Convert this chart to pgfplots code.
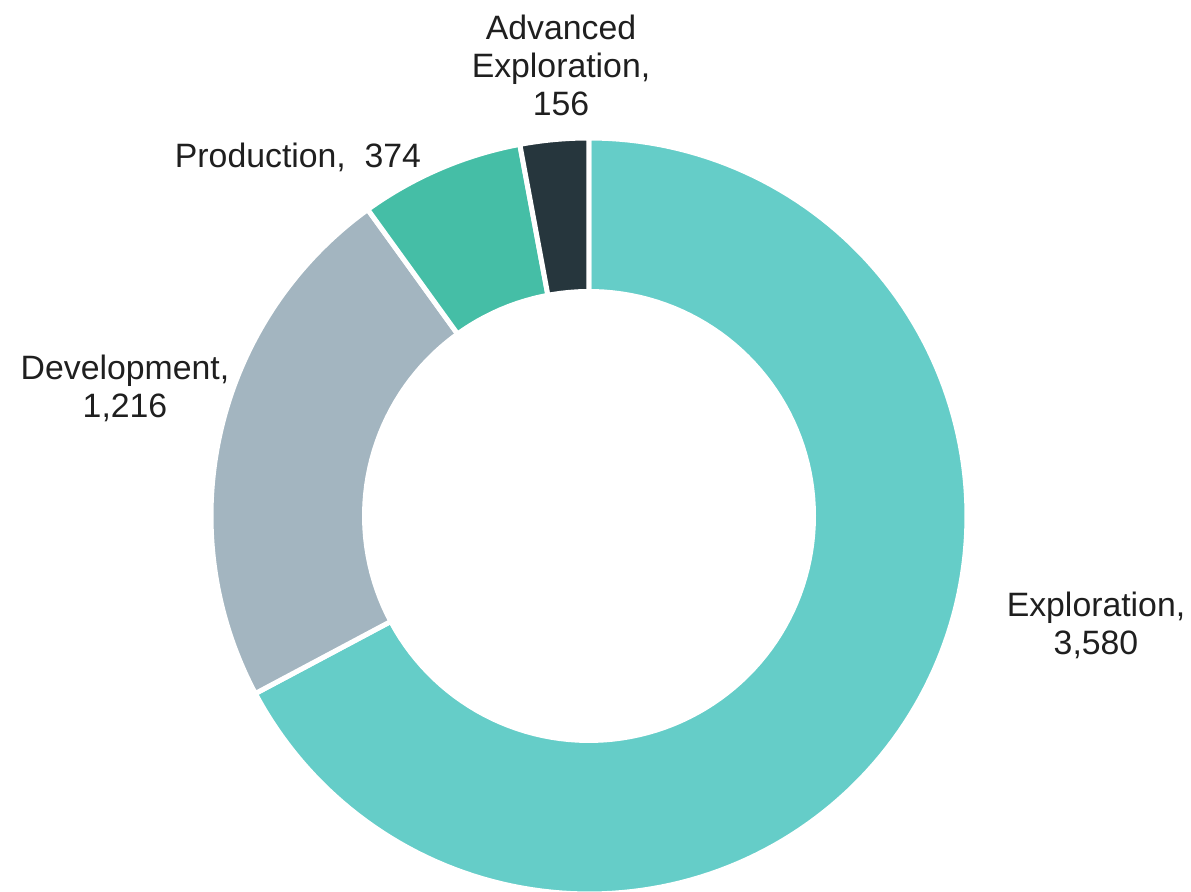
\documentclass[border=0pt]{standalone}
\usepackage{pgfplots}
\pgfplotsset{compat=1.18}
\usepackage{fontspec}
\setmainfont{Liberation Sans}
\definecolor{cExp}{HTML}{65CDC8}
\definecolor{cDev}{HTML}{A3B5C0}
\definecolor{cPro}{HTML}{45BEA6}
\definecolor{cAdv}{HTML}{26363D}
\def\vExp{3580}
\def\vDev{1216}
\def\vPro{374}
\def\vAdv{156}
\def\cx{589}
\def\cy{376}
\def\Ro{378}
\def\Ri{227}
\begin{document}
\begin{tikzpicture}
\pgfmathsetmacro{\total}{\vExp+\vDev+\vPro+\vAdv}
\pgfmathsetmacro{\aA}{90-360*(\vExp/\total)}
\pgfmathsetmacro{\aB}{\aA-360*(\vDev/\total)}
\pgfmathsetmacro{\aC}{\aB-360*(\vPro/\total)}
\pgfmathsetmacro{\aD}{\aC-360*(\vAdv/\total)}
\begin{axis}[width=595.5pt,height=446pt,scale only axis,
  xmin=0,xmax=1191,ymin=0,ymax=892,hide axis,
  every axis plot/.append style={samples=160,variable=\t}]
\addplot[fill=cExp,draw=white,line width=2.5pt,domain=\aA:90]
  ({\cx+\Ro*cos(\t)},{\cy+\Ro*sin(\t)}) -- (axis cs:\cx,\cy) -- cycle;
\addplot[fill=cDev,draw=white,line width=2.5pt,domain=\aB:\aA]
  ({\cx+\Ro*cos(\t)},{\cy+\Ro*sin(\t)}) -- (axis cs:\cx,\cy) -- cycle;
\addplot[fill=cPro,draw=white,line width=2.5pt,domain=\aC:\aB]
  ({\cx+\Ro*cos(\t)},{\cy+\Ro*sin(\t)}) -- (axis cs:\cx,\cy) -- cycle;
\addplot[fill=cAdv,draw=white,line width=2.5pt,domain=\aD:\aC]
  ({\cx+\Ro*cos(\t)},{\cy+\Ro*sin(\t)}) -- (axis cs:\cx,\cy) -- cycle;
\addplot[fill=white,draw=none,domain=0:360]
  ({\cx+\Ri*cos(\t)},{\cy+\Ri*sin(\t)}) -- cycle;
\tikzset{lab/.style={align=center,inner sep=0pt,text=black!88,font=\fontsize{16.9}{19}\selectfont}}
\node[lab] at (axis cs:1096,267) {Exploration,\\3,580};
\node[lab] at (axis cs:125,503.5) {Development,\\1,216};
\node[lab] at (axis cs:298,734.5) {Production,\ \ 374};
\node[lab] at (axis cs:561,827) {Advanced\\Exploration,\\156};
\end{axis}
\pgfresetboundingbox
\path[use as bounding box] (current axis.south west) rectangle (current axis.north east);
\end{tikzpicture}
\end{document}
